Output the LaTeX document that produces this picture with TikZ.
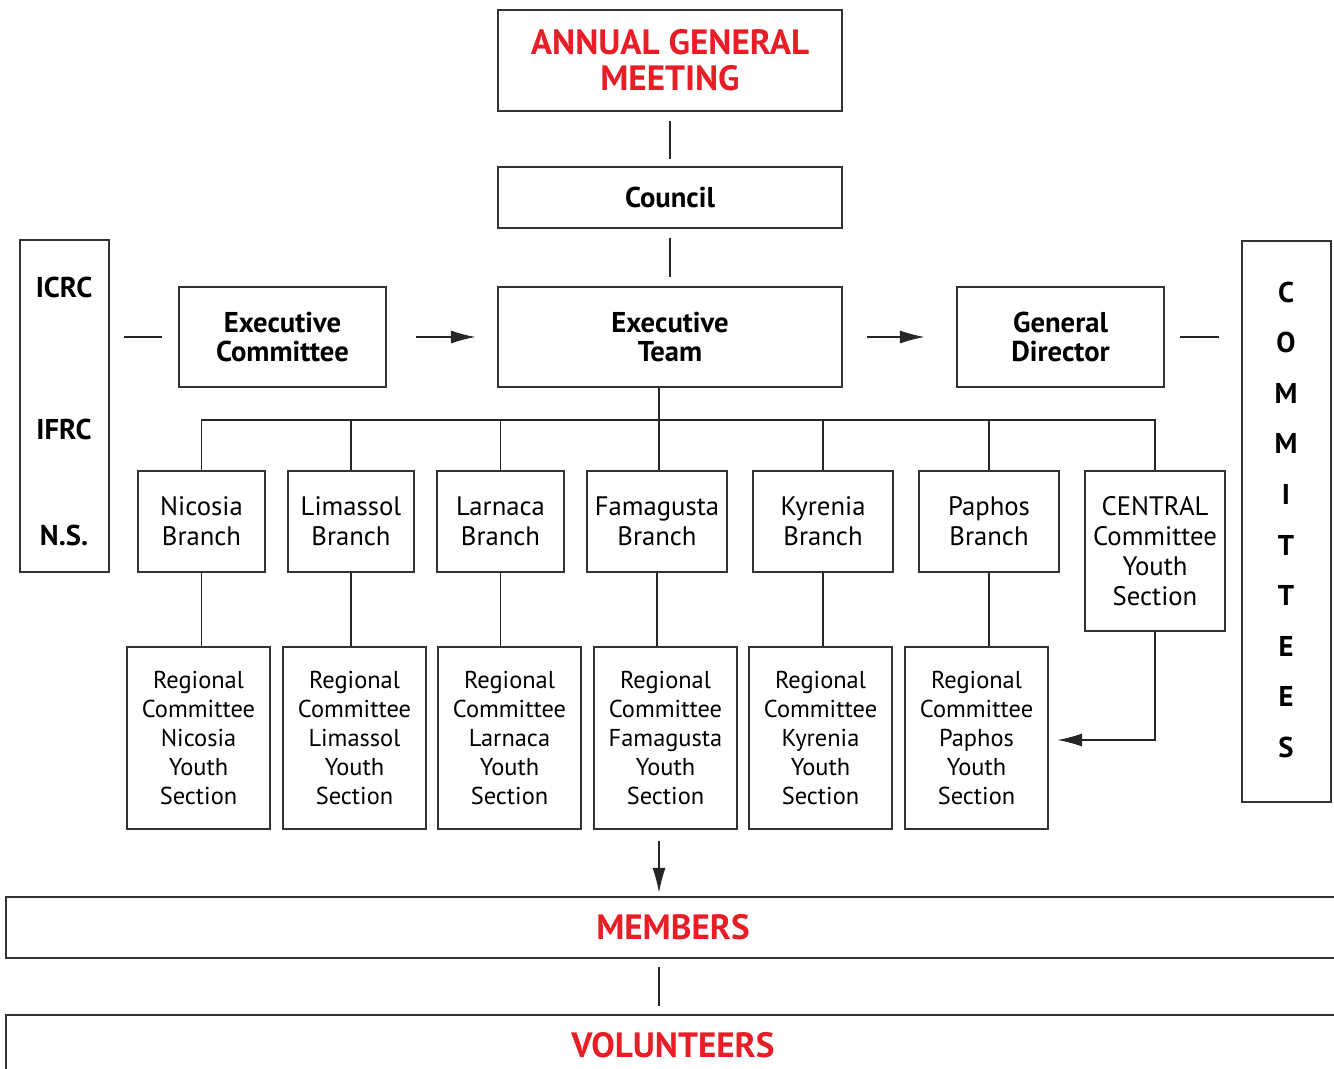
\documentclass[tikz,border=0pt]{standalone}
\usepackage{fontspec}
\usepackage{xcolor}
\setmainfont{PT Sans}
\usetikzlibrary{arrows.meta}

\definecolor{rcred}{RGB}{232,30,38}
\tikzset{
	box/.style = {draw=black!80, line width=0.7pt, inner sep=0pt, align=center},
	head/.style = {font=\fontsize{20}{20.5}\selectfont\bfseries, text=rcred},
	boss/.style = {font=\fontsize{16.3}{16.5}\selectfont\bfseries},
	plain/.style = {font=\fontsize{15.2}{17}\selectfont},
	link/.style = {draw=black!85, line width=0.6pt},
	arr/.style = {link, -{Latex[length=14pt,width=7.5pt]}}
}

\begin{document}
\begin{tikzpicture}
		\useasboundingbox (0,0) rectangle (26.68,-21.36);

		% top of the chart
		\node[box, head, minimum width=6.88cm, minimum height=2.02cm] (agm) at (13.40,-1.21) {ANNUAL GENERAL\\MEETING};
		\node[box, boss, minimum width=6.88cm, minimum height=1.22cm] (council) at (13.40,-3.95) {Council};
		\node[box, boss, minimum width=6.88cm, minimum height=2.00cm] (team) at (13.40,-6.74) {Executive\\Team};
		\node[box, boss, minimum width=4.14cm, minimum height=2.00cm] (execcom) at (5.65,-6.74) {Executive\\Committee};
		\node[box, boss, minimum width=4.14cm, minimum height=2.00cm] (director) at (21.21,-6.74) {General\\Director};

		% side boxes
		\node[box, minimum width=1.78cm, minimum height=6.64cm] (intl) at (1.29,-8.12) {};
		\node[boss] (icrc) at (1.28,-5.74) {ICRC};
		\node[boss] (ifrc) at (1.28,-8.58) {IFRC};
		\node[boss] (ns) at (1.28,-10.70) {N.S.};
		\node[box, minimum width=1.78cm, minimum height=11.22cm] (committees) at (25.73,-10.43) {};
		\foreach \l [count=\i from 0] in {C,O,M,M,I,T,T,E,E,S}
			\node[boss] (letter\i) at (25.72,-5.84-1.012*\i) {\l};

		% branches
		\node[box, plain, minimum width=2.54cm, minimum height=2.02cm] (nicosia) at (4.03,-10.43) {Nicosia\\Branch};
		\node[box, plain, minimum width=2.52cm, minimum height=2.02cm] (limassol) at (7.02,-10.43) {Limassol\\Branch};
		\node[box, plain, minimum width=2.54cm, minimum height=2.02cm] (larnaca) at (10.01,-10.43) {Larnaca\\Branch};
		\node[box, plain, minimum width=2.80cm, minimum height=2.02cm] (famagusta) at (13.14,-10.43) {Famagusta\\Branch};
		\node[box, plain, minimum width=2.80cm, minimum height=2.02cm] (kyrenia) at (16.46,-10.43) {Kyrenia\\Branch};
		\node[box, plain, minimum width=2.80cm, minimum height=2.02cm] (paphos) at (19.78,-10.43) {Paphos\\Branch};
		\node[box, plain, minimum width=2.80cm, minimum height=3.20cm] (central) at (23.10,-11.02) {CENTRAL\\Committee\\Youth\\Section};

		% regional committees
		\foreach \n/\x/\t in {nicosia/3.97/Nicosia, limassol/7.09/Limassol, larnaca/10.19/Larnaca,
			famagusta/13.31/Famagusta, kyrenia/16.41/Kyrenia, paphos/19.53/Paphos}
			\node[box, plain, font=\fontsize{13.9}{16.6}\selectfont, minimum width=2.86cm, minimum height=3.64cm]
				(reg\n) at (\x,-14.76) {Regional\\Committee\\\t\\Youth\\Section};

		% bottom bands
		\node[box, head, minimum width=26.68cm, minimum height=1.22cm] (members) at (13.46,-18.55) {MEMBERS};
		\node[box, head, minimum width=26.68cm, minimum height=1.22cm] (volunteers) at (13.46,-20.91) {VOLUNTEERS};

		% connectors
		\coordinate (bus) at (13.18,-8.40);
		\draw[link, shorten <=0.18cm, shorten >=0.14cm] (agm) -- (council);
		\draw[link, shorten <=0.18cm, shorten >=0.18cm] (council) -- (team);
		\draw[link, shorten <=0.28cm, shorten >=0.32cm] (intl.east |- execcom) -- (execcom);
		\draw[arr, shorten <=0.58cm, shorten >=0.44cm] (execcom) -- (team);
		\draw[arr, shorten <=0.48cm, shorten >=0.64cm] (team) -- (director);
		\draw[link, shorten <=0.30cm, shorten >=0.44cm] (director) -- (committees.west |- director);
		\draw[link] (bus |- team.south) -- (bus |- famagusta.north);
		\draw[link] (nicosia.north) |- (bus) -| (central.north);
		\foreach \n in {nicosia, limassol, larnaca, kyrenia, paphos}
			\draw[link] (\n.north) -- (\n.north |- bus);
		\foreach \n in {nicosia, limassol, larnaca, famagusta, kyrenia, paphos}
			\draw[link] (\n.south) -- (\n.south |- reg\n.north);
		\draw[arr, shorten >=0.18cm] (central.south) |- ([yshift=-0.04cm]regpaphos.east);
		\draw[arr, shorten <=0.22cm, shorten >=0.08cm] (bus |- regfamagusta.south) -- (bus |- members.north);
		\draw[link, shorten <=0.16cm, shorten >=0.16cm] (bus |- members.south) -- (bus |- volunteers.north);
	\end{tikzpicture}
\end{document}
